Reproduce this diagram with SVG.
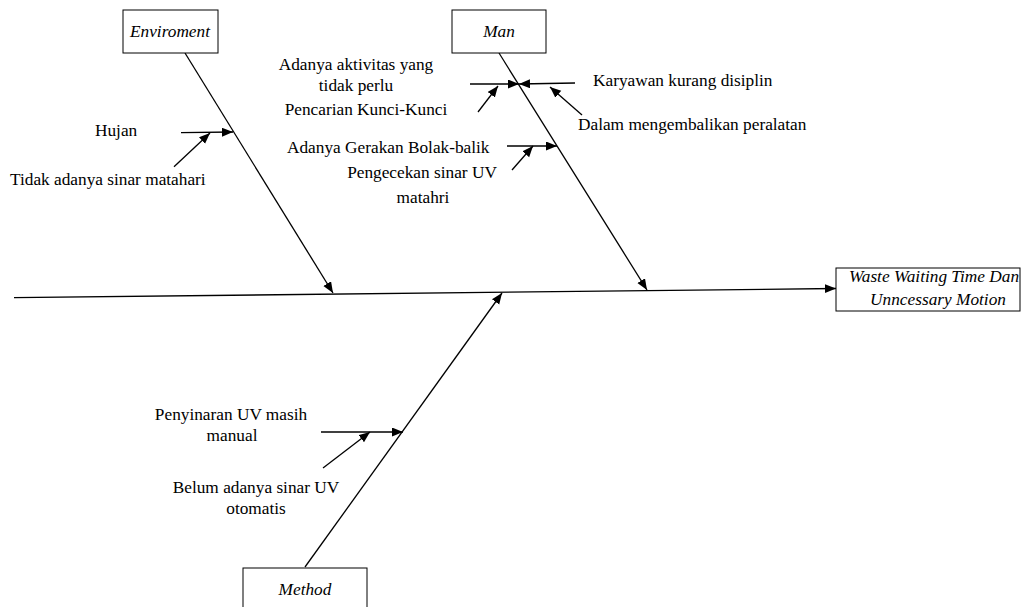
<svg xmlns="http://www.w3.org/2000/svg" width="1025" height="607" viewBox="0 0 1025 607">
<style>
.t{font-family:"Liberation Serif","Times New Roman",serif;font-size:17.3px;fill:#000}
.i{font-style:italic}
.c{text-anchor:middle}
.box{fill:#fff;stroke:#000;stroke-width:1}
.ln{stroke:#000;stroke-width:1.3;fill:none}
</style>
<defs>
<marker id="ah" markerUnits="userSpaceOnUse" markerWidth="12" markerHeight="10" refX="11" refY="4.5" orient="auto">
<path d="M0,0 L11,4.5 L0,9 z" fill="#000"/>
</marker>
</defs>
<rect width="1025" height="607" fill="#fff"/>
<g id="connectors">
<line class="ln" x1="14" y1="297.7" x2="836" y2="288.5" stroke-width="1.6" marker-end="url(#ah)"/>
<line class="ln" x1="185" y1="53" x2="333" y2="293" marker-end="url(#ah)"/>
<line class="ln" x1="499" y1="53" x2="647" y2="290" marker-end="url(#ah)"/>
<line class="ln" x1="305" y1="567" x2="502" y2="293" marker-end="url(#ah)"/>
<line class="ln" x1="181" y1="132.7" x2="233" y2="132" marker-end="url(#ah)"/>
<line class="ln" x1="174" y1="166.7" x2="210" y2="133" marker-end="url(#ah)"/>
<line class="ln" x1="470" y1="84" x2="519" y2="84" marker-end="url(#ah)"/>
<line class="ln" x1="575" y1="83" x2="519" y2="84" marker-end="url(#ah)"/>
<line class="ln" x1="478" y1="112" x2="498" y2="86" marker-end="url(#ah)"/>
<line class="ln" x1="582" y1="115" x2="550" y2="87" marker-end="url(#ah)"/>
<line class="ln" x1="507" y1="146" x2="557" y2="146" marker-end="url(#ah)"/>
<line class="ln" x1="512" y1="170" x2="533" y2="146" marker-end="url(#ah)"/>
<line class="ln" x1="321" y1="432" x2="403" y2="432" marker-end="url(#ah)"/>
<line class="ln" x1="323" y1="468" x2="370" y2="432" marker-end="url(#ah)"/>
</g>
<g id="enviroment">
<rect class="box" x="123" y="10" width="95" height="43"/>
<text class="t i c" x="170" y="37">Enviroment</text>
</g>
<g id="man">
<rect class="box" x="452" y="10" width="94" height="43"/>
<text class="t i c" x="499" y="37">Man</text>
</g>
<g id="method">
<rect class="box" x="243" y="568" width="124" height="50"/>
<text class="t i c" x="305" y="595">Method</text>
</g>
<g id="effect">
<rect class="box" x="836" y="268" width="184" height="43"/>
<text class="t i c" x="934" y="282">Waste Waiting Time Dan</text>
<text class="t i c" x="938" y="305">Unncessary Motion</text>
</g>
<g id="cause-hujan">
<text class="t" x="95" y="136">Hujan</text>
</g>
<g id="cause-tidak-adanya-sinar">
<text class="t" x="10" y="185">Tidak adanya sinar matahari</text>
</g>
<g id="cause-aktivitas">
<text class="t c" x="356" y="70">Adanya aktivitas yang</text>
<text class="t c" x="356" y="91">tidak perlu</text>
</g>
<g id="cause-pencarian">
<text class="t c" x="366" y="115">Pencarian Kunci-Kunci</text>
</g>
<g id="cause-gerakan">
<text class="t" x="287" y="153">Adanya Gerakan Bolak-balik</text>
</g>
<g id="cause-pengecekan">
<text class="t c" x="422" y="178">Pengecekan sinar UV</text>
<text class="t c" x="423" y="203">matahri</text>
</g>
<g id="cause-karyawan">
<text class="t" x="593" y="86">Karyawan kurang disiplin</text>
</g>
<g id="cause-dalam">
<text class="t" x="578" y="130">Dalam mengembalikan peralatan</text>
</g>
<g id="cause-penyinaran">
<text class="t c" x="231" y="420">Penyinaran UV masih</text>
<text class="t c" x="232" y="441">manual</text>
</g>
<g id="cause-belum">
<text class="t c" x="256" y="493">Belum adanya sinar UV</text>
<text class="t c" x="256" y="514">otomatis</text>
</g>
</svg>
